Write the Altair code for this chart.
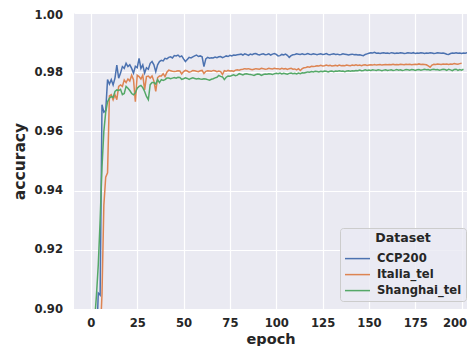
import altair as alt
import pandas as pd

datasets = ["CCP200", "Italia_tel", "Shanghai_tel"]
colors = ["#4c72b0", "#dd8452", "#55a868"]

ccp200 = [
    0.850, 0.870, 0.888, 0.9054, 0.9047, 0.9690, 0.9665, 0.9670, 0.9775, 0.9760,
    0.9775, 0.9757, 0.9780, 0.9824, 0.9780, 0.9797, 0.9819, 0.9813, 0.9830, 0.9819,
    0.9825, 0.9813, 0.9797, 0.9820, 0.9815, 0.9847, 0.9813, 0.9825, 0.9797, 0.9815,
    0.9810, 0.9830, 0.9836, 0.9825, 0.9802, 0.9825, 0.9836, 0.9840, 0.9838, 0.9847,
    0.9845, 0.9850, 0.9852, 0.9848, 0.9856, 0.9855, 0.9858, 0.9852, 0.9855, 0.9845,
    0.9836, 0.9843, 0.9850, 0.9848, 0.9852, 0.9855, 0.9858, 0.9853, 0.9855, 0.9852,
    0.9819, 0.9845, 0.9850, 0.9847, 0.9849, 0.9848, 0.9851, 0.9849, 0.9852, 0.9853,
    0.9849, 0.9852, 0.9855, 0.9853, 0.9857, 0.9855, 0.9858, 0.9857, 0.9859, 0.9860,
    0.9861, 0.9858, 0.9862, 0.9860, 0.9857, 0.9861, 0.9859, 0.9862, 0.9863, 0.9860,
    0.9858, 0.9861, 0.9862, 0.9859, 0.9860, 0.9862, 0.9858, 0.9861, 0.9863, 0.9860,
    0.9855, 0.9856, 0.9860, 0.9858, 0.9861, 0.9857, 0.9850, 0.9856, 0.9859, 0.9860,
    0.9862, 0.9861, 0.9860, 0.9862, 0.9860, 0.9861, 0.9863, 0.9861, 0.9860, 0.9862,
    0.9861, 0.9859, 0.9861, 0.9862, 0.9860, 0.9861, 0.9863, 0.9860, 0.9859, 0.9861,
    0.9862, 0.9860, 0.9861, 0.9859, 0.9860, 0.9862, 0.9861, 0.9860, 0.9858, 0.9860,
    0.9861, 0.9859, 0.9860, 0.9858, 0.9859, 0.9857, 0.9856, 0.9860, 0.9862, 0.9864,
    0.9866, 0.9865, 0.9867, 0.9864, 0.9865, 0.9863, 0.9865, 0.9866, 0.9864, 0.9865,
    0.9863, 0.9866, 0.9865, 0.9863, 0.9865, 0.9864, 0.9866, 0.9865, 0.9863, 0.9864,
    0.9866, 0.9865, 0.9864, 0.9866, 0.9863, 0.9865, 0.9864, 0.9866, 0.9865, 0.9863,
    0.9865, 0.9864, 0.9866, 0.9865, 0.9863, 0.9864, 0.9866, 0.9865, 0.9864, 0.9865,
    0.9863, 0.9861, 0.9860, 0.9863, 0.9865, 0.9864, 0.9866, 0.9864, 0.9865, 0.9863,
    0.9865, 0.9864, 0.9866,
]

italia_tel = [
    0.800, 0.830, 0.860, 0.875, 0.890, 0.9050, 0.9350, 0.9445, 0.9460, 0.9720,
    0.9724, 0.9707, 0.9724, 0.9707, 0.9752, 0.9757, 0.9752, 0.9774, 0.9765, 0.9777,
    0.9770, 0.9790, 0.9775, 0.9700, 0.9790, 0.9785, 0.9777, 0.9790, 0.9740, 0.9785,
    0.9787, 0.9780, 0.9787, 0.9770, 0.9735, 0.9782, 0.9787, 0.9787, 0.9795, 0.9785,
    0.9800, 0.9807, 0.9805, 0.9803, 0.9802, 0.9803, 0.9805, 0.9804, 0.9794, 0.9802,
    0.9806, 0.9804, 0.9800, 0.9802, 0.9806, 0.9805, 0.9803, 0.9802, 0.9805, 0.9806,
    0.9796, 0.9803, 0.9805, 0.9804, 0.9803, 0.9806, 0.9805, 0.9802, 0.9804, 0.9802,
    0.9792, 0.9805, 0.9803, 0.9806, 0.9804, 0.9805, 0.9803, 0.9807, 0.9808, 0.9807,
    0.9809, 0.9810, 0.9812, 0.9811, 0.9812, 0.9810, 0.9808, 0.9810, 0.9812, 0.9811,
    0.9810, 0.9813, 0.9812, 0.9810, 0.9811, 0.9813, 0.9812, 0.9811, 0.9813, 0.9812,
    0.9812, 0.9810, 0.9813, 0.9811, 0.9812, 0.9809, 0.9812, 0.9813, 0.9810, 0.9811,
    0.9808, 0.9812, 0.9806, 0.9812, 0.9815, 0.9816, 0.9818, 0.9817, 0.9820, 0.9819,
    0.9820, 0.9822, 0.9821, 0.9823, 0.9821, 0.9822, 0.9824, 0.9822, 0.9823, 0.9821,
    0.9822, 0.9823, 0.9821, 0.9824, 0.9822, 0.9823, 0.9822, 0.9824, 0.9823, 0.9822,
    0.9824, 0.9823, 0.9825, 0.9823, 0.9824, 0.9822, 0.9824, 0.9825, 0.9823, 0.9824,
    0.9825, 0.9824, 0.9826, 0.9824, 0.9825, 0.9826, 0.9824, 0.9825, 0.9826, 0.9825,
    0.9826, 0.9825, 0.9827, 0.9825, 0.9826, 0.9825, 0.9827, 0.9826, 0.9825, 0.9827,
    0.9826, 0.9827, 0.9825, 0.9826, 0.9827, 0.9826, 0.9828, 0.9826, 0.9827, 0.9826,
    0.9825, 0.9821, 0.9817, 0.9824, 0.9827, 0.9826, 0.9828, 0.9827, 0.9826, 0.9828,
    0.9827, 0.9828, 0.9826, 0.9828, 0.9827, 0.9829, 0.9828, 0.9827, 0.9829, 0.9830,
]

shanghai_tel = [
    0.860, 0.896, 0.9045, 0.9150, 0.9300, 0.9480, 0.9600, 0.9665, 0.9700, 0.9712,
    0.9718, 0.9715, 0.9735, 0.9740, 0.9738, 0.9742, 0.9724, 0.9728, 0.9752, 0.9746,
    0.9738, 0.9728, 0.9724, 0.9730, 0.9746, 0.9752, 0.9755, 0.9748, 0.9735, 0.9718,
    0.9707, 0.9758, 0.9765, 0.9765, 0.9760, 0.9775, 0.9765, 0.9775, 0.9772, 0.9775,
    0.9780, 0.9780, 0.9778, 0.9780, 0.9782, 0.9780, 0.9783, 0.9782, 0.9776, 0.9778,
    0.9781, 0.9779, 0.9776, 0.9779, 0.9781, 0.9779, 0.9777, 0.9779, 0.9777, 0.9776,
    0.9778, 0.9777, 0.9775, 0.9773, 0.9776, 0.9778, 0.9781, 0.9783, 0.9789, 0.9786,
    0.9784, 0.9775, 0.9783, 0.9787, 0.9786, 0.9789, 0.9791, 0.9788, 0.9790, 0.9795,
    0.9793, 0.9791, 0.9794, 0.9795, 0.9793, 0.9792, 0.9791, 0.9789, 0.9792, 0.9794,
    0.9793, 0.9789, 0.9792, 0.9794, 0.9793, 0.9795, 0.9794, 0.9792, 0.9795, 0.9796,
    0.9795, 0.9797, 0.9794, 0.9796, 0.9795, 0.9793, 0.9796, 0.9797, 0.9795, 0.9796,
    0.9794, 0.9797, 0.9795, 0.9798, 0.9797, 0.9799, 0.9801, 0.9800, 0.9802, 0.9801,
    0.9803, 0.9802, 0.9801, 0.9803, 0.9802, 0.9804, 0.9803, 0.9801, 0.9803, 0.9804,
    0.9802, 0.9804, 0.9803, 0.9805, 0.9803, 0.9804, 0.9802, 0.9804, 0.9805, 0.9803,
    0.9805, 0.9804, 0.9806, 0.9805, 0.9807, 0.9805, 0.9806, 0.9808, 0.9806, 0.9807,
    0.9806, 0.9808, 0.9807, 0.9806, 0.9808, 0.9807, 0.9805, 0.9807, 0.9808, 0.9806,
    0.9807, 0.9808, 0.9806, 0.9807, 0.9809, 0.9807, 0.9808, 0.9806, 0.9807, 0.9809,
    0.9808, 0.9807, 0.9809, 0.9808, 0.9806, 0.9808, 0.9809, 0.9807, 0.9808, 0.9810,
    0.9808, 0.9809, 0.9807, 0.9809, 0.9810, 0.9808, 0.9809, 0.9807, 0.9808, 0.9810,
    0.9809, 0.9806, 0.9810, 0.9808, 0.9805, 0.9809, 0.9810, 0.9806, 0.9809, 0.9807,
    0.9810,
]

x_ticks = [0, 25, 50, 75, 100, 125, 150, 175, 200]
y_ticks = [0.90, 0.92, 0.94, 0.96, 0.98, 1.00]

rows = []
for name, vals in zip(datasets, [ccp200, italia_tel, shanghai_tel]):
    for i, v in enumerate(vals):
        rows.append({"epoch": i + 1, "accuracy": v, "Dataset": name})
df = pd.DataFrame(rows)

FONT = "DejaVu Sans"
TXT = "#262626"

chart = (
    alt.Chart(df)
    .mark_line(clip=True, strokeWidth=1.5)
    .encode(
        x=alt.X(
            "epoch:Q",
            scale=alt.Scale(domain=[-9.1, 202.9], nice=False, zero=False),
            axis=alt.Axis(
                values=x_ticks,
                title="epoch",
                labelPadding=8,
                labelAlign={"condition": {"test": "datum.value >= 200", "value": "right"}, "value": "center"},
                labelOffset={"condition": {"test": "datum.value >= 200", "value": 5}, "value": 0},
                titleBaseline="alphabetic",
                titleY=34,
                titleFontSize=14.5,
            ),
        ),
        y=alt.Y(
            "accuracy:Q",
            scale=alt.Scale(domain=[0.90, 1.00], nice=False, zero=False),
            axis=alt.Axis(
                values=y_ticks,
                format=".2f",
                title="accuracy",
                labelPadding=11.5,
                titlePadding=6,
                labelOffset={"condition": {"test": "datum.value >= 0.999", "value": 2}, "value": 0},
            ),
        ),
        color=alt.Color(
            "Dataset:N",
            scale=alt.Scale(domain=datasets, range=colors),
            legend=alt.Legend(
                title="Dataset",
                orient="none",
                legendX=266,
                legendY=215,
                symbolType="M-1,0H4",
                symbolSize=100,
                symbolStrokeWidth=1.5,
                labelOffset=21,
                rowPadding=4,
                padding=4,
                titleAnchor="middle",
                titlePadding=8,
                fillColor="rgba(234,234,242,0.8)",
                strokeColor="#cccccc",
                cornerRadius=3,
            ),
        ),
    )
    .properties(
        width=393,
        height=296,
        autosize=alt.AutoSizeParams(type="none"),
        padding={"left": 66, "top": 5, "right": 0, "bottom": 37},
    )
    .configure_view(fill="#EAEAF2", strokeWidth=0)
    .configure_axis(
        domain=False,
        ticks=False,
        grid=True,
        gridColor="#ffffff",
        gridWidth=1.2,
        labelFont=FONT,
        labelFontSize=11.6,
        labelFontWeight="bold",
        labelColor=TXT,
        titleFont=FONT,
        titleFontSize=15.5,
        titleFontWeight="bold",
        titleColor=TXT,
    )
    .configure_legend(
        labelFont=FONT,
        labelFontSize=11.6,
        labelFontWeight="bold",
        labelColor=TXT,
        titleFont=FONT,
        titleFontSize=12.6,
        titleFontWeight="bold",
        titleColor=TXT,
    )
)

chart.save("out.html", embed_options={"renderer": "svg", "actions": False})
